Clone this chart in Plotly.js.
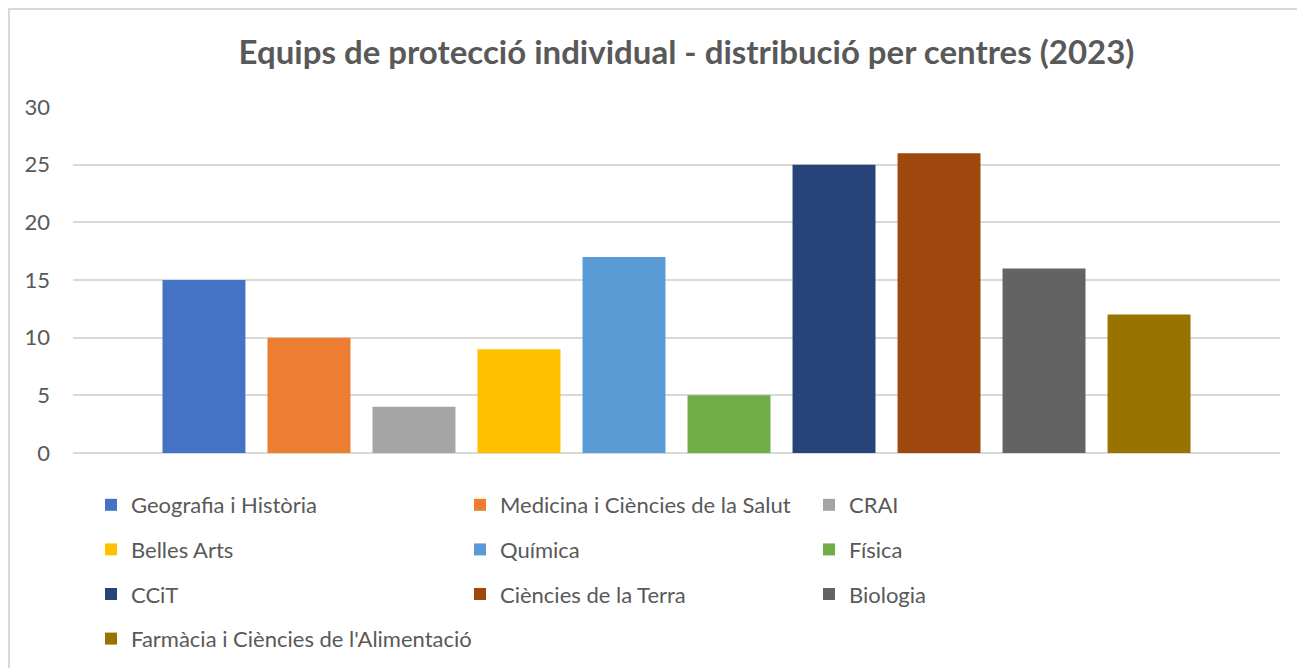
<!DOCTYPE html>
<html>
<head>
<meta charset="utf-8">
<script src="https://cdn.plot.ly/plotly-3.0.1.min.js"></script>
<style>
  html, body { margin: 0; padding: 0; background: #fff; overflow: hidden; }
  #chart { width: 1297px; height: 668px; position: absolute; left: 0; top: 0; }
  #chart text { font-variant-ligatures: none; }
  #frame { position: absolute; left: 8px; top: 8px; width: 1400px; height: 800px;
           border: 2px solid #d9d9d9; pointer-events: none; box-sizing: border-box; }
</style>
</head>
<body>
<div id="chart"></div>
<div id="frame"></div>
<script>
const centres = ["Geografia i Història", "Medicina i Ciències de la Salut", "CRAI",
                 "Belles Arts", "Química", "Física",
                 "CCiT", "Ciències de la Terra", "Biologia",
                 "Farmàcia i Ciències de l'Alimentació"];
const values = [15, 10, 4, 9, 17, 5, 25, 26, 16, 12];
const colors = ["#4472C4", "#ED7D31", "#A5A5A5", "#FFC000", "#5B9BD5",
                "#70AD47", "#264478", "#9E480E", "#636363", "#997300"];
const category = ["2023"];
const yTicks = [0, 5, 10, 15, 20, 25, 30];

const legendIds = ["legend", "legend2", "legend3"];
const traces = centres.map((name, i) => ({
  type: "bar",
  name: name,
  x: category,
  y: [values[i]],
  marker: { color: colors[i] },
  legend: legendIds[i % 3],
  legendgroup: "g" + i,
  hoverinfo: "name+y"
}));

const font = "Lato, 'Open Sans', sans-serif";
const legendBase = {
  orientation: "v",
  xref: "container", yref: "container",
  yanchor: "top", xanchor: "left",
  y: 1 - 484 / 668,
  font: { family: font, size: 22, color: "#595959" },
  bgcolor: "rgba(0,0,0,0)",
  itemwidth: 30,
  tracegroupgap: 13,
  itemclick: false, itemdoubleclick: false
};

const layout = {
  width: 1297, height: 668,
  margin: { l: 73, r: 17, t: 107, b: 215, autoexpand: false },
  paper_bgcolor: "#ffffff",
  plot_bgcolor: "#ffffff",
  font: { family: font, color: "#595959" },
  title: {
    text: "<b>Equips de protecció individual - distribució per centres (2023)</b>",
    font: { family: font, size: 33, color: "#595959" },
    x: 686.5 / 1297, xanchor: "center",
    y: 1 - 52 / 668, yanchor: "middle", xref: "container", yref: "container"
  },
  barmode: "group",
  bargap: 0.13,
  bargroupgap: 0.21,
  showlegend: true,
  legend: Object.assign({}, legendBase, { x: 91 / 1297 }),
  legend2: Object.assign({}, legendBase, { x: 460 / 1297 }),
  legend3: Object.assign({}, legendBase, { x: 809 / 1297 }),
  xaxis: {
    type: "category",
    showticklabels: false,
    showgrid: false,
    zeroline: false,
    showline: false,
    ticks: ""
  },
  yaxis: {
    range: [0, 30],
    tickvals: yTicks,
    ticktext: yTicks.map(String),
    showgrid: true,
    gridcolor: "#d9d9d9",
    gridwidth: 1.5,
    zeroline: true,
    zerolinecolor: "#d9d9d9",
    zerolinewidth: 1.5,
    showline: false,
    ticks: "",
    ticklabelstandoff: 22,
    tickfont: { family: font, size: 22, color: "#595959" }
  }
};

Plotly.newPlot("chart", traces, layout, { displayModeBar: false });
</script>
</body>
</html>
